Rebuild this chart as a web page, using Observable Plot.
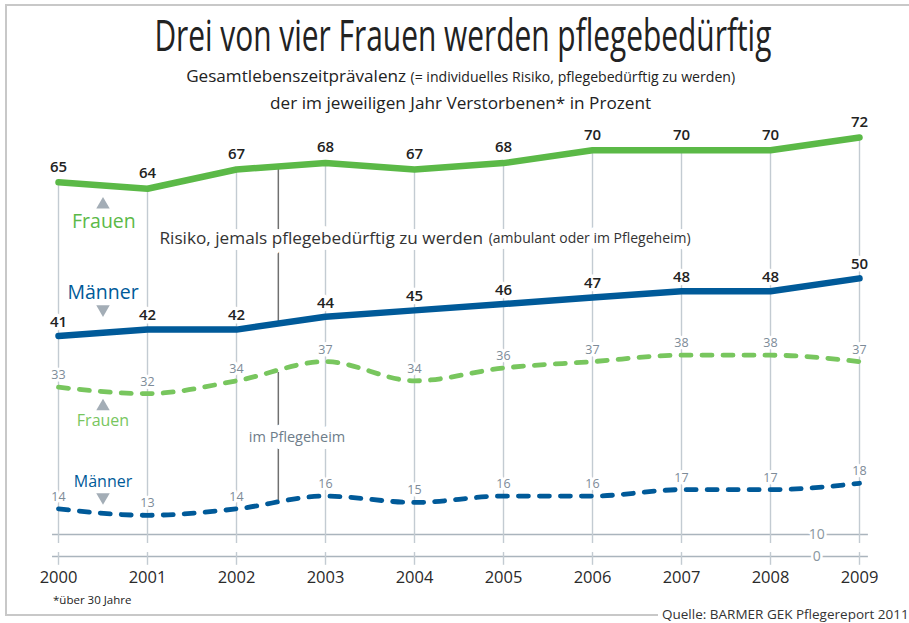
<!DOCTYPE html>
<html><head><meta charset="utf-8">
<script src="https://cdn.jsdelivr.net/npm/d3@7"></script>
<script src="https://cdn.jsdelivr.net/npm/@observablehq/plot@0.6"></script>
<style>
body{margin:0;width:909px;height:623px;overflow:hidden;position:relative;background:#fff;font-family:"Open Sans",sans-serif;color:#222;}
.abs{position:absolute;white-space:nowrap;}
.fit{display:inline-block;transform-origin:center center;}
</style></head><body>
<div class="abs" style="left:5px;top:4px;width:1000px;height:608px;border:2px solid #c8c8c8;"></div>
<div id="chart" class="abs" style="left:0;top:0"></div>
<div class="abs" style="left:0;width:926px;top:13px;text-align:center;font-size:43px;line-height:43px;"><span class="fit" data-w="617">Drei von vier Frauen werden pflegebedürftig</span></div>
<div class="abs" style="left:0;width:921px;top:67px;text-align:center;font-size:17px;line-height:17px;"><span class="fit" data-w="549">Gesamtlebenszeitprävalenz <span style="font-size:14px">(= individuelles Risiko, pflegebedürftig zu werden)</span></span></div>
<div class="abs" style="left:0;width:921px;top:94px;text-align:center;font-size:17px;line-height:17px;"><span class="fit" data-w="381">der im jeweiligen Jahr Verstorbenen* in Prozent</span></div>
<div class="abs" style="left:53px;top:592px;font-size:11.5px;line-height:16px;">*über 30 Jahre</div>
<div class="abs" style="left:658px;top:605px;font-size:13.5px;line-height:18px;background:#fff;padding-left:4px;color:#333;">Quelle: BARMER GEK Pflegereport 2011</div>
<script>
// ---- data ----
const years = [2000, 2001, 2002, 2003, 2004, 2005, 2006, 2007, 2008, 2009];
const frauenGesamt = [65, 64, 67, 68, 67, 68, 70, 70, 70, 72];
const maennerGesamt = [41, 42, 42, 44, 45, 46, 47, 48, 48, 50];
const frauenHeim = [33, 32, 34, 37, 34, 36, 37, 38, 38, 37];
const maennerHeim = [14, 13, 14, 16, 15, 16, 16, 17, 17, 18];
const refValues = [0, 10];

// ---- styling ----
const green = "#5bb947", greenLight = "#78c65e", blue = "#005a99";
const gridColor = "#c3cbd2", labelGray = "#7d8b98", triGray = "#a3adb6";

const pts = arr => years.map((year, i) => ({year, value: arr[i]}));
const fg = pts(frauenGesamt), mg = pts(maennerGesamt), fh = pts(frauenHeim), mh = pts(maennerHeim);

// broken axis: the 0–10 band is compressed
const breakAt = 10, squeeze = 2.2 / 6.4;
const yTransform = v => v >= breakAt ? v : breakAt - (breakAt - v) * squeeze;

// annotation layout (in scale units)
const gridBottom = -4, breakLow = 1.8, breakHigh = 5.9;
const connectors = [{x: 2002.47, y1: 43.2, y2: 67.4}, {x: 2002.47, y1: 15.05, y2: 35.3}];
const seriesLabels = [
  {x: 2000.51, y: 58.8, text: "Frauen", fill: green, size: 19.5},
  {x: 2000.5, y: 47.7, text: "Männer", fill: blue, size: 19.5},
  {x: 2000.5, y: 27.8, text: "Frauen", fill: greenLight, size: 16},
  {x: 2000.5, y: 18.2, text: "Männer", fill: blue, size: 16}
];
const triUp = [{x: 2000.5, y: 61.5}, {x: 2000.5, y: 30.0}];
const triDown = [{x: 2000.5, y: 45.2}, {x: 2000.5, y: 15.85}];

const halo = {stroke: "white", strokeWidth: 7, paintOrder: "stroke"};

const chart = Plot.plot({
  width: 909, height: 623,
  marginTop: 0, marginRight: 0, marginBottom: 58, marginLeft: 0,
  x: {domain: [2000, 2009], range: [58, 859], axis: null},
  y: {transform: yTransform, domain: [yTransform(0), 72], range: [556, 137], axis: null},
  style: {fontFamily: "Open Sans, sans-serif", background: "transparent", overflow: "visible"},
  marks: [
    Plot.ruleY(refValues, {y: d => d, x1: 1999.933, x2: 2009.1, stroke: "#aab4bd", strokeWidth: 1.5}),
    Plot.ruleX(fg, {x: "year", y1: gridBottom, y2: breakLow, stroke: gridColor, strokeWidth: 1.4}),
    Plot.ruleX(fg, {x: "year", y1: breakHigh, y2: "value", stroke: gridColor, strokeWidth: 1.4}),
    Plot.ruleX(connectors, {x: "x", y1: "y1", y2: "y2", stroke: "#707070", strokeWidth: 1.5}),
    Plot.text(refValues, {x: 2008.52, y: d => d, text: d => String(d), fill: "#8a96a0", fontSize: 14, stroke: "white", strokeWidth: 5, paintOrder: "stroke"}),
    Plot.text(["Risiko, jemals pflegebedürftig zu werden"], {x: 2004.77, y: 56.25, text: d => d, textAnchor: "end", fontSize: 17.2, fill: "#333", ...halo, strokeWidth: 12}),
    Plot.text(["(ambulant oder im Pflegeheim)"], {x: 2004.8, y: 56.25, dx: 3, text: d => d, textAnchor: "start", fontSize: 14, fill: "#333", ...halo, strokeWidth: 12}),
    Plot.text(["im Pflegeheim"], {x: 2002.68, y: 25.2, text: d => d, fontSize: 14.5, fill: "#6e7d8a", ...halo, strokeWidth: 14}),
    Plot.text(seriesLabels, {x: "x", y: "y", text: "text", fill: "fill", fontSize: d => d.size}),
    Plot.dot(triUp, {x: "x", y: "y", symbol: "triangle", r: 5, fill: triGray}),
    Plot.dot(triDown, {x: "x", y: "y", symbol: "triangle", r: 5, fill: triGray, rotate: 180}),
    Plot.text(fg, {x: "year", y: "value", text: d => String(d.value), dy: -15.5, fontSize: 15, fontWeight: 600, fill: "#222", ...halo}),
    Plot.text(mg, {x: "year", y: "value", text: d => String(d.value), dy: -14, fontSize: 15, fontWeight: 600, fill: "#222", ...halo}),
    Plot.text(fh, {x: "year", y: "value", text: d => String(d.value), dy: -12, fontSize: 12.5, fill: labelGray, ...halo, strokeWidth: 6}),
    Plot.text(mh, {x: "year", y: "value", text: d => String(d.value), dy: -12, fontSize: 12.5, fill: labelGray, ...halo, strokeWidth: 6}),
    Plot.line(fh, {x: "year", y: "value", curve: "monotone-x", stroke: greenLight, strokeWidth: 4.8, strokeDasharray: "10,11", strokeLinecap: "round"}),
    Plot.line(mh, {x: "year", y: "value", curve: "monotone-x", stroke: blue, strokeWidth: 4.8, strokeDasharray: "10,11", strokeLinecap: "round"}),
    Plot.line(fg, {x: "year", y: "value", curve: "linear", stroke: green, strokeWidth: 6.5, strokeLinecap: "round", strokeLinejoin: "round"}),
    Plot.line(mg, {x: "year", y: "value", curve: "linear", stroke: blue, strokeWidth: 6.5, strokeLinecap: "round", strokeLinejoin: "round"}),
    Plot.axisX(years, {tickFormat: d => String(d), tickSize: 0, tickPadding: 6, fontSize: 16.5, fill: "#2a2a2a"})
  ]
});
document.getElementById("chart").appendChild(chart);

document.querySelectorAll(".fit").forEach(el => {
  const w = el.getBoundingClientRect().width;
  el.style.transform = `scaleX(${(+el.dataset.w / w).toFixed(4)})`;
});
</script>
</body></html>
